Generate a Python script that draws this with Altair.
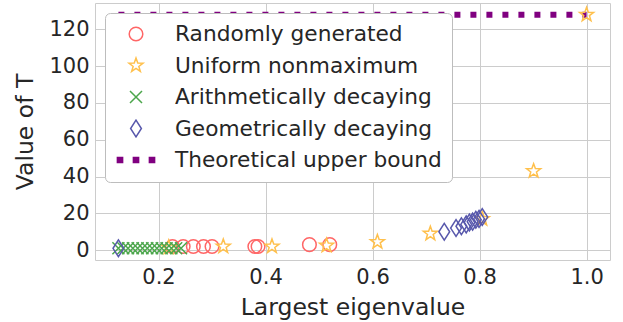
import math
import altair as alt
import pandas as pd

# ---- data ----
series_names = ["Randomly generated", "Uniform nonmaximum",
                "Arithmetically decaying", "Geometrically decaying",
                "Theoretical upper bound"]

random_x = [0.226, 0.246, 0.265, 0.284, 0.300, 0.380, 0.386, 0.482, 0.520]
random_t = [2, 2, 2, 2, 2, 2, 2, 3, 3]

uniform_x = [0.219, 0.321, 0.412, 0.514, 0.609, 0.708, 0.805, 0.901, 1.0]
uniform_t = [1.5, 2, 2, 2.5, 4.5, 9, 17, 43, 128]

arith_x = [0.125, 0.134, 0.143, 0.152, 0.161, 0.170, 0.179,
           0.188, 0.197, 0.206, 0.215, 0.224, 0.233, 0.242]
arith_t = [1, 1, 1, 1, 1, 1, 1, 1, 1, 1, 1, 1, 1, 1]

geom_x = [0.125, 0.734, 0.756, 0.766, 0.775, 0.781, 0.787, 0.793, 0.799, 0.805]
geom_t = [1, 10, 12, 13, 14, 15, 15.5, 16.5, 17, 18]

bound_x = [0.125, 1.0]
bound_t = [128, 128]

x_ticks = [0.2, 0.4, 0.6, 0.8, 1.0]
y_ticks = [0, 20, 40, 60, 80, 100, 120]

# ---- tables ----
rows = []
for name, xs, ts in [(series_names[0], random_x, random_t),
                     (series_names[1], uniform_x, uniform_t),
                     (series_names[2], arith_x, arith_t),
                     (series_names[3], geom_x, geom_t)]:
    for x, t in zip(xs, ts):
        rows.append({"series": name, "x": x, "t": t})
points_df = pd.DataFrame(rows)
bound_df = pd.DataFrame({"x": bound_x, "t": bound_t})

# ---- marker shapes (unit paths, drawn with size 1600 -> 20px per unit) ----
circle_path = "M0.34,0A0.34,0.34 0 1,1 -0.34,0A0.34,0.34 0 1,1 0.34,0Z"
pts = []
for k in range(10):
    ang = math.radians(-90 + 36 * k)
    r = 0.37 if k % 2 == 0 else 0.15
    pts.append(f"{r*math.cos(ang):.4f},{r*math.sin(ang):.4f}")
star_path = "M" + "L".join(pts) + "Z"
x_path = "M-0.3,-0.3L0.3,0.3M-0.3,0.3L0.3,-0.3"
diamond_path = "M0,-0.42L0.27,0L0,0.42L-0.27,0Z"
dots_path = ("M-0.93,-0.13H-0.67V0.13H-0.93Z"
             "M-0.13,-0.13H0.13V0.13H-0.13Z"
             "M0.67,-0.13H0.93V0.13H0.67Z")

stroke_colors = ["#ff6666", "#ffc04c", "#4ca64c", "#5858ac", "#800080"]
fill_colors = ["transparent", "transparent", "transparent", "transparent", "#800080"]
shapes = [circle_path, star_path, x_path, diamond_path, dots_path]

FONT = "DejaVu Sans"
TXT = "#262626"

leg = alt.Legend(title=None, orient="none", legendX=10, legendY=10,
                 padding=10, fillColor="white", strokeColor="#bdbdbd",
                 cornerRadius=5, labelFontSize=21.7, labelFont=FONT,
                 labelColor=TXT, labelLimit=500, symbolSize=1600,
                 symbolStrokeWidth=1.5, labelOffset=18, rowPadding=8.5,
                 clipHeight=22, symbolOffset=0)

x_scale = alt.Scale(domain=[0.08125, 1.04375], nice=False, zero=False)
y_scale = alt.Scale(domain=[-5.35, 134.35], nice=False, zero=False)

x_axis = alt.Axis(values=x_ticks, format=".1f", title="Largest eigenvalue")
y_axis = alt.Axis(values=y_ticks, format="d", title="Value of T")

bound = alt.Chart(bound_df).mark_line(
    color="#800080", strokeWidth=6, strokeDash=[6, 10], strokeCap="butt"
).encode(
    x=alt.X("x:Q", scale=x_scale, axis=x_axis),
    y=alt.Y("t:Q", scale=y_scale, axis=y_axis),
)

points = alt.Chart(points_df).mark_point(
    size=1600, strokeWidth=1.5, opacity=1
).encode(
    x=alt.X("x:Q", scale=x_scale, axis=x_axis),
    y=alt.Y("t:Q", scale=y_scale, axis=y_axis),
    stroke=alt.Stroke("series:N", scale=alt.Scale(domain=series_names, range=stroke_colors), legend=leg),
    fill=alt.Fill("series:N", scale=alt.Scale(domain=series_names, range=fill_colors), legend=leg),
    shape=alt.Shape("series:N", scale=alt.Scale(domain=series_names, range=shapes), legend=leg),
)

chart = alt.layer(bound, points).properties(
    width=515, height=257,
    autosize=alt.AutoSizeParams(type="none"),
    padding={"left": 95, "top": 3, "right": 13, "bottom": 62},
    background="white",
).configure_view(
    stroke="#cccccc", strokeWidth=1
).configure_axis(
    grid=True, gridColor="#cccccc", gridWidth=1, domain=False, ticks=False,
    labelFont=FONT, labelFontSize=21, labelColor=TXT, labelPadding=6,
    titleFont=FONT, titleFontSize=23.5, titleFontWeight="normal", titleColor=TXT,
).configure_axisX(
    titlePadding=8
).configure_axisY(
    titlePadding=11
)

chart.save("out.html", embed_options={"renderer": "svg", "actions": False})
